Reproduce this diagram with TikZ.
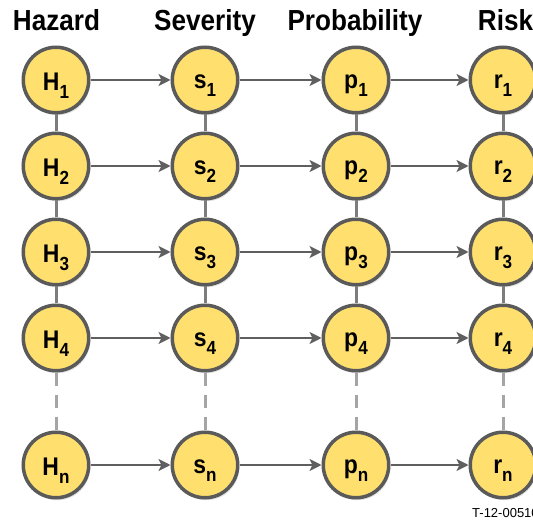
\documentclass[tikz,border=0pt]{standalone}
\usepackage{fontspec}
\setmainfont{Liberation Sans}
\newfontfamily\narrowfont{Liberation Sans}[FakeStretch=0.9]
\usetikzlibrary{arrows.meta,shadows}
\definecolor{nodefill}{RGB}{255,224,110}
\definecolor{nodedraw}{RGB}{90,90,90}
\definecolor{arrowgray}{RGB}{95,95,95}
\definecolor{linkgray}{RGB}{125,125,125}
\definecolor{dashgray}{RGB}{165,165,165}
\newcommand\subidx[1]{\raisebox{-8pt}{\fontsize{19}{19}\selectfont #1}}
\begin{document}
\begin{tikzpicture}[x=1pt,y=1pt,
  circ/.style={circle, draw=nodedraw, line width=3.5pt, fill=nodefill,
    minimum size=65.5pt, inner sep=0pt, outer sep=1.75pt,
    drop shadow={shadow xshift=1.5pt, shadow yshift=-2.5pt, opacity=0.22}},
  lab/.style={inner sep=0pt, outer sep=0pt, font=\narrowfont\bfseries\fontsize{25.5}{25.5}\selectfont},
  title/.style={anchor=base, inner sep=0pt, font=\narrowfont\bfseries\fontsize{29}{29}\selectfont},
  arr/.style={draw=arrowgray, line width=2pt, -{Stealth[length=12pt,width=12pt,inset=3pt]}},
  link/.style={draw=linkgray, line width=3pt},
  dashlink/.style={draw=dashgray, line width=3pt, dash pattern=on 13pt off 9pt},
  foot/.style={anchor=base west, inner sep=0pt, font=\fontsize{13}{13}\selectfont}
]
\useasboundingbox (0,0) rectangle (533,-529);

\node[title] (tH) at (56.5,-31) {Hazard};
\node[title] (tS) at (205,-31) {Severity};
\node[title] (tP) at (355,-31) {Probability};
\node[title] (tR) at (505.5,-31) {Risk};

\foreach \col/\xx in {H/56,s/205,p/356,r/503}{
  \foreach \row/\yy in {1/80,2/166,3/252,4/338,n/465}{
    \node[circ] (\col\row) at (\xx,-\yy) {};
    \node[lab,yshift=-6pt] (\col\row t) at (\xx,-\yy) {\col\subidx{\row}};
  }
}

\foreach \col in {H,s,p,r}{
  \draw[link] (\col1) -- (\col2);
  \draw[link] (\col2) -- (\col3);
  \draw[link] (\col3) -- (\col4);
  \draw[dashlink] (\col4) -- (\col n);
}

\foreach \row in {1,2,3,4,n}{
  \draw[arr] (H\row) -- (s\row);
  \draw[arr] (s\row) -- (p\row);
  \draw[arr] (p\row) -- (r\row);
}

\node[foot] (ft) at (472,-517) {T-12-00510};
\end{tikzpicture}
\end{document}
